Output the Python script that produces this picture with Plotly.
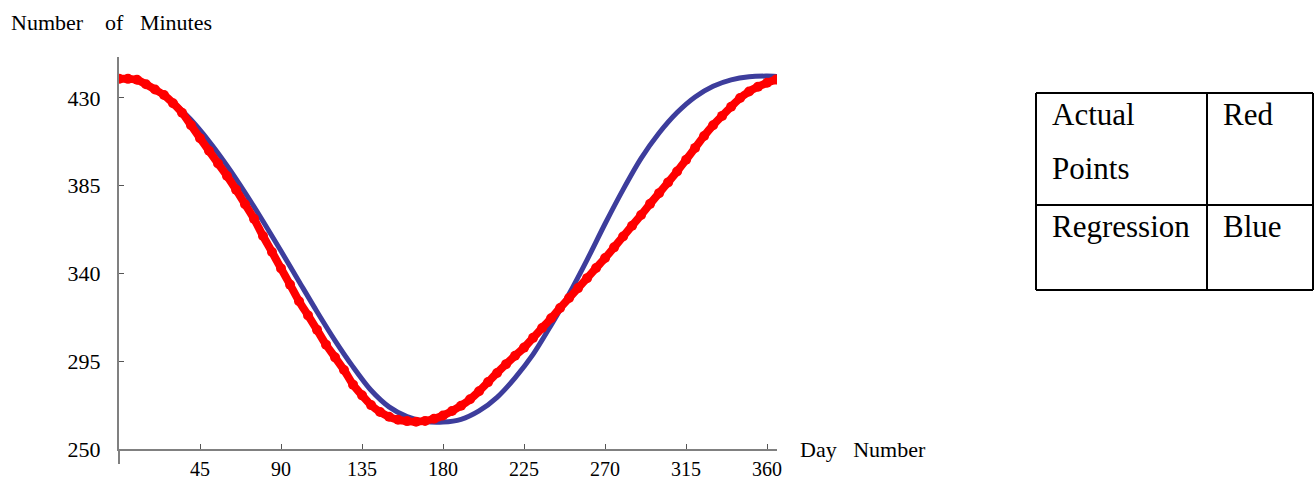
import plotly.graph_objects as go

# ---- data ----
red_days = list(range(0, 366, 5))
red_minutes = [439.8, 439.8, 439.3, 437.0, 434.3, 431.5, 427.3, 422.4, 416.0, 409.4,
               402.9, 396.4, 390.0, 383.0, 375.5, 368.0, 359.2, 351.0, 342.6, 334.3,
               325.8, 318.5, 311.1, 303.5, 297.0, 290.5, 283.0, 277.5, 272.5, 269.0,
               266.5, 265.0, 264.3, 264.0, 264.4, 265.5, 267.2, 269.5, 272.2, 275.5,
               279.6, 284.3, 289.0, 293.5, 297.8, 302.0, 307.0, 312.0, 317.0, 322.3,
               327.4, 332.5, 337.6, 342.8, 347.9, 353.4, 359.0, 364.5, 370.0, 375.7,
               381.2, 386.7, 392.3, 398.3, 404.4, 410.5, 416.0, 420.8, 425.5, 430.0,
               433.3, 435.8, 437.8, 439.4]

blue_days = [0, 10, 20, 30, 40, 50, 60, 70, 80, 90, 100, 110, 120, 130, 140, 150, 160,
             170, 180, 190, 200, 210, 220, 230, 240, 250, 260, 270, 280, 290, 300, 310,
             320, 330, 340, 350, 360, 366]
blue_minutes = [440.5, 439.0, 434.8, 427.8, 418.8, 407.8, 395.3, 381.5, 366.8, 351.5,
                335.9, 320.4, 305.6, 292.1, 280.1, 271.6, 266.6, 264.1, 263.8, 265.2,
                269.5, 276.5, 286.5, 298.5, 313.5, 329.5, 347.0, 365.5, 383.0, 399.0,
                412.0, 422.5, 430.5, 436.0, 439.3, 440.9, 441.2, 441.0]

x_ticks = [45, 90, 135, 180, 225, 270, 315, 360]
y_ticks = [250, 295, 340, 385, 430]

table_cells = [["Actual", "Points", "Red"], ["Regression", "Blue"]]

# ---- layout geometry (pixels) ----
W, H = 1314, 482
L, R, T, B = 119, 777, 57, 449


def px(xp):
    return (xp - L) / (R - L)


def py(yp):
    return (B - yp) / (B - T)


SERIF = "Liberation Serif, Times New Roman, serif"
NB = "\u00a0"

fig = go.Figure()
fig.add_trace(go.Scatter(x=blue_days, y=blue_minutes, mode="lines",
                         line=dict(color="#3d3d9c", width=5, shape="spline", smoothing=0.8),
                         hoverinfo="skip", showlegend=False))
fig.add_trace(go.Scatter(x=red_days, y=red_minutes, mode="lines+markers",
                         line=dict(color="#ff0000", width=8, shape="spline", smoothing=0.8),
                         marker=dict(color="#ff0000", size=10),
                         hoverinfo="skip", showlegend=False))

fig.update_layout(
    width=W, height=H,
    margin=dict(l=L, r=W - R, t=T, b=H - B, autoexpand=False),
    paper_bgcolor="white", plot_bgcolor="white",
    font=dict(family=SERIF, size=18, color="black"),
    xaxis=dict(range=[0, 365.5], tickvals=x_ticks, ticks="inside", ticklen=5,
               tickcolor="#555", tickwidth=1, showline=True, linecolor="#808080",
               linewidth=2, showgrid=False, zeroline=False, automargin=False,
               tickfont=dict(family=SERIF, size=20), ticklabelstandoff=1),
    yaxis=dict(range=[250, 451], tickvals=y_ticks, ticks="inside", ticklen=5,
               tickcolor="#555", tickwidth=1, showline=True, linecolor="#808080",
               linewidth=2, showgrid=False, zeroline=False, automargin=False,
               tickfont=dict(family=SERIF, size=22), ticklabelstandoff=12),
)

# y axis extends a little below the x axis
fig.add_shape(type="line", xref="paper", yref="paper",
              x0=px(119), x1=px(119), y0=py(449), y1=py(464),
              line=dict(color="#808080", width=2))

# axis titles
fig.add_annotation(xref="paper", yref="paper", x=px(9), y=py(23),
                   xanchor="left", yanchor="middle", showarrow=False,
                   text="Number" + NB * 4 + "of" + NB * 3 + "Minutes",
                   font=dict(family=SERIF, size=22))
fig.add_annotation(xref="paper", yref="paper", x=px(798), y=py(449),
                   xanchor="left", yanchor="middle", showarrow=False,
                   text="Day" + NB * 3 + "Number",
                   font=dict(family=SERIF, size=22))

# table legend
tx0, tx1, tx2 = 1036, 1207, 1313
ty0, ty1, ty2 = 93, 205, 290
for (a, b, c, d) in [(tx0, ty0, tx2, ty0), (tx0, ty1, tx2, ty1), (tx0, ty2, tx2, ty2),
                     (tx0, ty0, tx0, ty2), (tx1, ty0, tx1, ty2), (tx2, ty0, tx2, ty2)]:
    fig.add_shape(type="line", xref="paper", yref="paper",
                  x0=px(a), y0=py(b), x1=px(c), y1=py(d),
                  line=dict(color="black", width=2))

cell_pos = [[(1050, 114), (1050, 168), (1221, 114)], [(1050, 226), (1221, 226)]]
for r in range(len(table_cells)):
    for c in range(len(table_cells[r])):
        xx, yy = cell_pos[r][c]
        fig.add_annotation(xref="paper", yref="paper", x=px(xx), y=py(yy),
                           xanchor="left", yanchor="middle", showarrow=False,
                           align="left", text=table_cells[r][c],
                           font=dict(family=SERIF, size=31))

fig.write_html("out.html")
